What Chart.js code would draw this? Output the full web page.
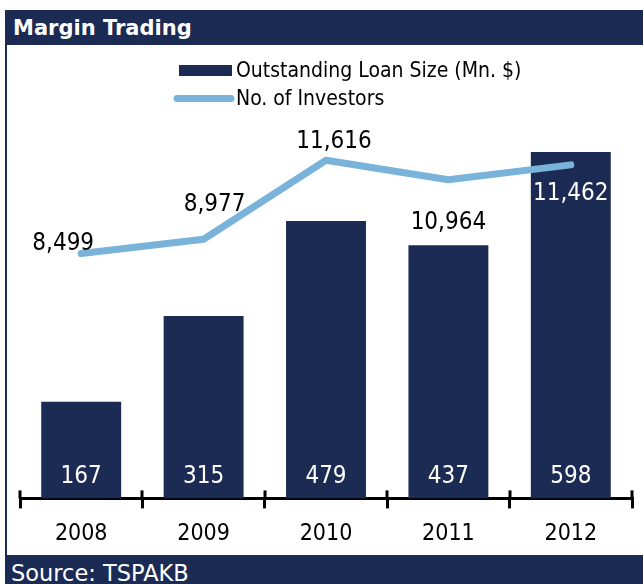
<!DOCTYPE html>
<html>
<head>
<meta charset="utf-8">
<script src="https://cdn.jsdelivr.net/npm/chart.js@4"></script>
<style>
  html, body { margin: 0; padding: 0; background: #fff; }
  #wrap { position: relative; width: 643px; height: 584px; overflow: hidden; }
  #title { position: absolute; left: 5px; top: 10px; width: 638px; height: 35px; background: #1c2b53;
           color: #fff; font: bold 21px "DejaVu Sans", sans-serif; line-height: 37px; padding-left: 8px; box-sizing: border-box; }
  #edge { position: absolute; left: 5px; top: 10px; width: 2px; height: 574px; background: #1c2b53; }
  #source { position: absolute; left: 5px; top: 555px; width: 638px; height: 29px; background: #1c2b53;
            color: #fff; font: 22.5px "DejaVu Sans", sans-serif; line-height: 22px; padding: 7px 0 0 6px; box-sizing: border-box; }
  #c { position: absolute; left: 0; top: 0; }
</style>
</head>
<body>
<div id="wrap">
  <div id="title">Margin Trading</div>
  <div id="edge"></div>
  <div id="source">Source: TSPAKB</div>
  <canvas id="c" width="643" height="584"></canvas>
</div>
<script>
// dati del grafico
const years = ['2008', '2009', '2010', '2011', '2012'];
const loanSize = [167, 315, 479, 437, 598];
const investors = [8499, 8977, 11616, 10964, 11462];

const NAVY = '#1c2b53';
const LIGHT = '#7ab3d9';
const numFont = '"DejaVu Sans Condensed", "DejaVu Sans", sans-serif';

// spostamento delle etichette della linea rispetto al punto
const lineLabelOffset = [[-18, -10], [11, -34], [8, -18], [0, 43], [0, 29]];
const lineLabelColor = ['#000', '#000', '#000', '#000', '#fff'];

// legenda disegnata a mano
const legendPlugin = {
    id: 'customLegend',
    afterDraw(chart) {
        const ctx = chart.ctx;
        const ds = chart.data.datasets;
        ctx.save();
        ctx.fillStyle = ds[0].backgroundColor;
        ctx.fillRect(179, 65, 53, 11);
        ctx.strokeStyle = ds[1].borderColor;
        ctx.lineWidth = 7;
        ctx.lineCap = 'round';
        ctx.beginPath();
        ctx.moveTo(177, 98.5);
        ctx.lineTo(231, 98.5);
        ctx.stroke();
        ctx.fillStyle = '#000';
        ctx.font = '21px ' + numFont;
        ctx.textBaseline = 'middle';
        ctx.fillText(ds[0].label, 236, 72);
        ctx.fillText(ds[1].label, 236, 100);
        ctx.restore();
    }
};

// etichette dei valori e tacche sopra l'asse
const labelsPlugin = {
    id: 'valueLabels',
    afterDatasetsDraw(chart) {
        const ctx = chart.ctx;
        ctx.save();
        ctx.textAlign = 'center';
        ctx.textBaseline = 'middle';
        ctx.font = '24px ' + numFont;

        const bars = chart.getDatasetMeta(0).data;
        bars.forEach((b, i) => {
            ctx.fillStyle = '#fff';
            ctx.fillText(loanSize[i].toLocaleString('en-US'), b.x, b.base - 22);
        });

        const pts = chart.getDatasetMeta(1).data;
        pts.forEach((p, i) => {
            ctx.fillStyle = lineLabelColor[i];
            ctx.fillText(investors[i].toLocaleString('en-US'), p.x + lineLabelOffset[i][0], p.y + lineLabelOffset[i][1]);
        });

        // tacche verso l'alto
        const xs = chart.scales.x;
        ctx.strokeStyle = '#000';
        ctx.lineWidth = 3;
        for (let i = 0; i <= years.length; i++) {
            const x = Math.round(xs.getPixelForValue(i - 0.5));
            ctx.beginPath();
            ctx.moveTo(x, xs.top);
            ctx.lineTo(x, xs.top - 8);
            ctx.stroke();
        }
        ctx.restore();
    }
};

new Chart(document.getElementById('c'), {
    data: {
        labels: years,
        datasets: [{
            type: 'bar',
            label: 'Outstanding Loan Size (Mn. $)',
            data: loanSize,
            backgroundColor: NAVY,
            categoryPercentage: 1,
            barPercentage: 0.653,
            yAxisID: 'y',
            order: 1
        }, {
            type: 'line',
            label: 'No. of Investors',
            data: investors,
            borderColor: LIGHT,
            borderWidth: 7,
            borderCapStyle: 'round',
            borderJoinStyle: 'round',
            pointRadius: 0,
            tension: 0,
            fill: false,
            yAxisID: 'y1',
            order: 0
        }]
    },
    options: {
        responsive: false,
        animation: false,
        layout: { padding: { left: 20, right: 11, top: 93, bottom: 24 } },
        plugins: {
            legend: { display: false },
            tooltip: { enabled: false }
        },
        scales: {
            x: {
                offset: true,
                grid: {
                    offset: true,
                    drawOnChartArea: false,
                    drawTicks: true,
                    tickLength: 10,
                    color: '#000',
                    lineWidth: 3
                },
                border: { display: true, color: '#000', width: 3 },
                ticks: {
                    color: '#000',
                    padding: 12,
                    font: { family: numFont, size: 23 }
                }
            },
            y: { display: false, min: 0, max: 700 },
            y1: { display: false, min: 321, max: 13862 }
        }
    },
    plugins: [legendPlugin, labelsPlugin]
});
</script>
</body>
</html>
